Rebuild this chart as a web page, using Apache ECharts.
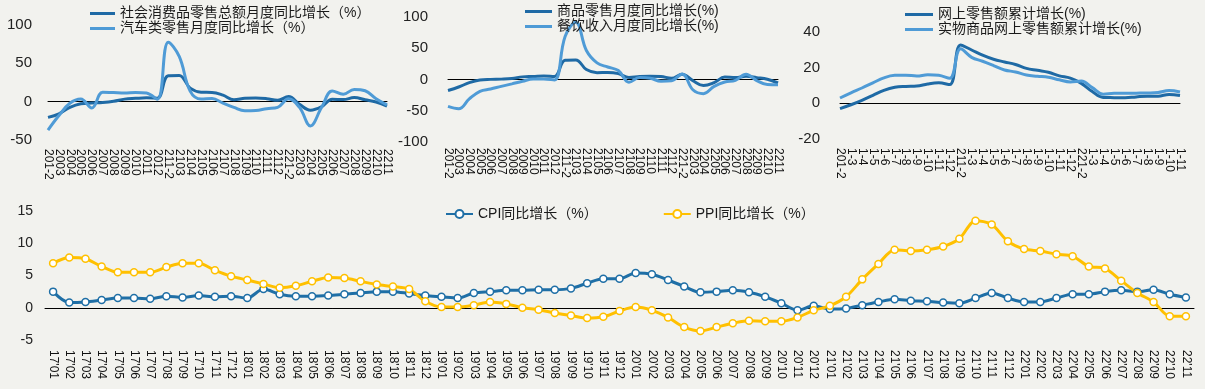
<!DOCTYPE html>
<html><head><meta charset="utf-8">
<script src="https://cdn.jsdelivr.net/npm/echarts@6/dist/echarts.min.js"></script>
<style>html,body{margin:0;padding:0;background:#f2f2ee;}#c{width:1205px;height:389px;}</style>
</head><body><div id="c"></div>
<script>
// ---- data ----
var monthCats = ['201-2','2003','2004','2005','2006','2007','2008','2009','2010','2011','2012',
  '211-2','2103','2104','2105','2106','2107','2108','2109','2110','2111','2112',
  '221-2','2203','2204','2205','2206','2207','2208','2209','2210','2211'];
var cumCats = ['201-2','1-3','1-4','1-5','1-6','1-7','1-8','1-9','1-10','1-11','1-12',
  '211-2','1-3','1-4','1-5','1-6','1-7','1-8','1-9','1-10','1-11','1-12',
  '221-2','1-3','1-4','1-5','1-6','1-7','1-8','1-9','1-10','1-11'];
var retailTotal = [-20.5,-15.8,-7.5,-2.8,-1.8,-1.1,0.5,3.3,4.3,5.0,4.6, 33.8,34.2,17.7,12.4,12.1,8.5,2.5,4.4,4.9,3.9,1.7, 6.7,-3.5,-11.1,-6.7,3.1,2.7,5.4,2.5,-0.5,-5.9];
var autoRetail = [-37.0,-18.1,-2.0,3.5,-8.2,12.3,11.8,11.3,12.0,11.3,3.0, 77.6,59.0,13.7,3.4,4.1,-1.8,-7.4,-11.8,-11.5,-9.1,-7.4, 3.7,-7.5,-31.6,-8.0,13.9,9.7,15.9,14.2,3.9,-4.2];
var goodsRetail = [-17.6,-12.0,-5.1,-0.8,0.2,0.6,1.6,4.2,4.9,5.8,4.9, 30.7,31.4,15.9,10.9,11.2,9.4,3.3,4.9,5.4,4.8,2.0, 8.5,-1.8,-9.7,-5.0,3.9,3.2,5.1,3.0,0.5,-5.6];
var catering = [-43.1,-46.8,-31.1,-18.9,-15.2,-11.0,-7.0,-2.9,0.8,0.6,-0.6, 68.9,91.6,46.4,26.6,20.0,14.3,-4.5,3.1,2.0,-2.7,-2.0, 8.9,-16.4,-22.7,-11.0,-4.0,-1.5,8.4,-1.7,-8.1,-8.4];
var onlineCum = [-3.0,-0.8,1.7,4.5,7.3,9.0,9.5,9.7,10.9,11.5,10.5, 32.7,29.9,27.0,24.7,23.2,21.8,19.6,18.5,17.4,15.4,14.1, 11.2,6.6,3.3,3.2,3.1,3.6,4.0,4.0,5.0,4.4];
var physicalCum = [3.0,5.9,8.6,11.5,14.3,15.7,15.8,15.3,16.0,15.7,14.0, 30.6,25.8,23.6,21.2,18.7,17.6,15.9,15.2,14.6,13.2,12.0, 12.5,8.8,5.1,5.6,5.6,5.7,5.8,6.1,7.2,6.4];
var cpiCats = ["17'01","17'02","17'03","17'04","17'05","17'06","17'07","17'08","17'09","17'10","17'11","17'12",
  "18'01","18'02","18'03","18'04","18'05","18'06","18'07","18'08","18'09","18'10","18'11","18'12",
  "19'01","19'02","19'03","19'04","19'05","19'06","19'07","19'08","19'09","19'10","19'11","19'12",
  "20'01","20'02","20'03","20'04","20'05","20'06","20'07","20'08","20'09","20'10","20'11","20'12",
  "21'01","21'02","21'03","21'04","21'05","21'06","21'07","21'08","21'09","21'10","21'11","21'12",
  "22'01","22'02","22'03","22'04","22'05","22'06","22'07","22'08","22'09","22'10","22'11"];
var cpi = [2.5,0.8,0.9,1.2,1.5,1.5,1.4,1.8,1.6,1.9,1.7,1.8,
  1.5,2.9,2.1,1.8,1.8,1.9,2.1,2.3,2.5,2.5,2.2,1.9,
  1.7,1.5,2.3,2.5,2.7,2.7,2.8,2.8,3.0,3.8,4.5,4.5,
  5.4,5.2,4.3,3.3,2.4,2.5,2.7,2.4,1.7,0.7,-0.4,0.3,
  -0.2,-0.1,0.4,0.9,1.3,1.1,1.0,0.8,0.7,1.5,2.3,1.5,
  0.9,0.9,1.5,2.1,2.1,2.5,2.7,2.5,2.8,2.1,1.6];
var ppi = [6.9,7.8,7.6,6.4,5.5,5.5,5.5,6.3,6.9,6.9,5.8,4.9,
  4.3,3.7,3.1,3.4,4.1,4.7,4.6,4.1,3.6,3.3,2.9,1.0,
  0.1,0.1,0.4,0.9,0.6,0.0,-0.3,-0.8,-1.2,-1.6,-1.4,-0.5,
  0.1,-0.4,-1.5,-3.0,-3.6,-3.0,-2.4,-2.0,-2.1,-2.1,-1.5,-0.4,
  0.3,1.7,4.4,6.8,9.0,8.8,9.0,9.5,10.7,13.5,12.9,10.3,
  9.1,8.8,8.3,8.0,6.4,6.1,4.2,2.3,0.9,-1.3,-1.3];

var DARK = '#1f6aa5', LIGHT = '#4f9bd6', CPIC = '#1f6fa6', PPIC = '#ffc000';
var FONT = "'Liberation Sans', Arial, 'Noto Sans CJK SC', sans-serif";

function xAx(gi, cats, margin, bg) {
  return { type:'category', gridIndex:gi, data:cats, boundaryGap:bg,
    axisLine:{show:true, onZero:true, lineStyle:{color:'#000', width:1}},
    axisTick:{show:false},
    axisLabel:{interval:0, rotate:-90, margin:margin, fontSize:12, color:'#111', fontFamily:FONT} };
}
function yAx(gi, min, max, interval, margin, fs) {
  return { type:'value', gridIndex:gi, min:min, max:max, interval:interval,
    axisLine:{show:false}, axisTick:{show:false}, splitLine:{show:false},
    axisLabel:{margin:margin, fontSize:fs, color:'#222', fontFamily:FONT} };
}
function sline(name, gi, data, color) {
  return { name:name, type:'line', xAxisIndex:gi, yAxisIndex:gi, data:data, smooth:0.4,
    symbol:'none', lineStyle:{color:color, width:3}, itemStyle:{color:color} };
}
function mline(name, data, color) {
  return { name:name, type:'line', xAxisIndex:3, yAxisIndex:3, data:data, smooth:0.3,
    symbol:'circle', symbolSize:7, showAllSymbol:true,
    lineStyle:{color:color, width:3},
    itemStyle:{color:'#fff', borderColor:color, borderWidth:1.5} };
}
function leg(left, top, names, w) {
  return { orient:'vertical', left:left, top:top, padding:0, itemGap:0, itemWidth:w, itemHeight:3,
    icon:'rect', data:names, textStyle:{fontSize:14, color:'#1a1a1a', fontFamily:FONT, lineHeight:15} };
}

var n1='社会消费品零售总额月度同比增长（%）';
var n2='汽车类零售月度同比增长（%）';
var n3='商品零售月度同比增长(%)', n4='餐饮收入月度同比增长(%)';
var n5='网上零售额累计增长(%)', n6='实物商品网上零售额累计增长(%)';
var n7='CPI同比增长（%）', n8='PPI同比增长（%）';

var chart = echarts.init(document.getElementById('c'), null, {renderer:'canvas'});
chart.setOption({
  backgroundColor:'#f2f2ee',
  animation:false,
  textStyle:{fontFamily:FONT},
  grid:[
    {left:48, top:25, width:339, height:115},
    {left:448, top:17, width:330, height:125},
    {left:840, top:32, width:340, height:107},
    {left:45, top:211, width:1149, height:129}
  ],
  xAxis:[ xAx(0, monthCats, 9, false), xAx(1, monthCats, 6, false), xAx(2, cumCats, 9, false), xAx(3, cpiCats, 10, true) ],
  yAxis:[ yAx(0,-50,100,50,16,15), yAx(1,-100,100,50,20,15), yAx(2,-20,40,20,20,15), yAx(3,-5,15,5,12,14) ],
  legend:[
    leg(90, 6, [n1,n2], 25),
    leg(525, 4, [n3,n4], 27),
    leg(905, 7, [n5,n6], 28),
    { orient:'horizontal', left:445, top:207, padding:0, itemGap:65, itemWidth:27, itemHeight:10,
      data:[n7,n8], textStyle:{fontSize:14, color:'#1a1a1a', fontFamily:FONT} }
  ],
  series:[
    sline(n1,0,retailTotal,DARK), sline(n2,0,autoRetail,LIGHT),
    sline(n3,1,goodsRetail,DARK), sline(n4,1,catering,LIGHT),
    sline(n5,2,onlineCum,DARK), sline(n6,2,physicalCum,LIGHT),
    mline(n7,cpi,CPIC), mline(n8,ppi,PPIC)
  ]
});
</script></body></html>
